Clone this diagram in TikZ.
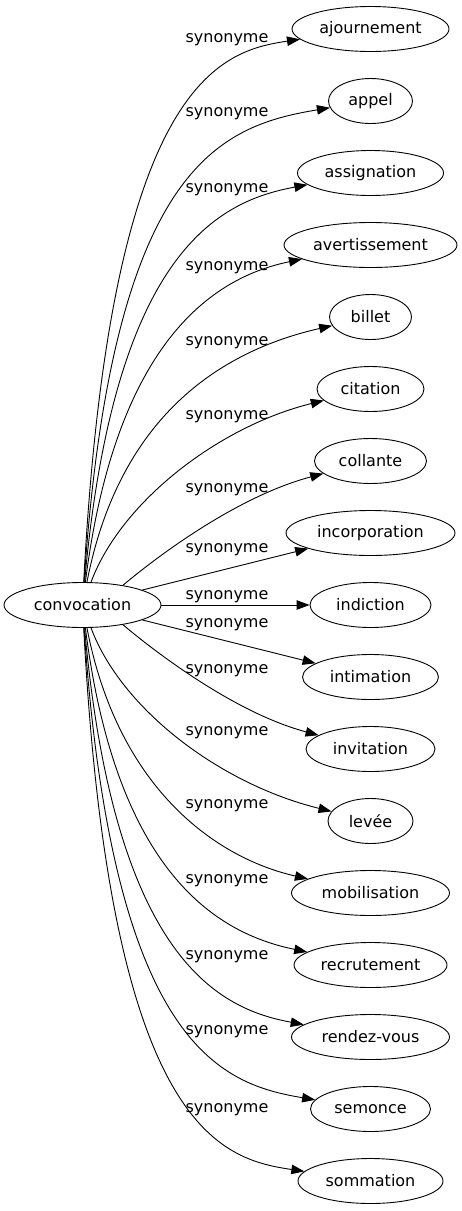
\documentclass[tikz,border=0pt]{standalone}
\usepackage{fontspec}
\setmainfont{DejaVu Sans}
\usetikzlibrary{positioning, arrows.meta, shapes.geometric}

\begin{document}
\begin{tikzpicture}[
    x=1pt, y=-1pt,
    font=\fontsize{16}{19}\selectfont,
    word/.style = {draw, ellipse, line width=0.9pt, inner sep=0pt, minimum height=45pt},% the words
    rel/.style = {inner sep=1pt},% edge labels
    link/.style = {line width=0.9pt, -{Triangle[length=13pt, width=9.5pt]}}
    ]
    \useasboundingbox (0,0) rectangle (462,1211);
    \node (convocation) [word, minimum width=157pt] at (82.5,605) {convocation};
    \foreach \nm/\txt/\wdt/\ly [count=\i from 0] in {
        ajournement/ajournement/157/40, appel/appel/84/114, assignation/assignation/146/190,
        avertissement/avertissement/173/268, billet/billet/82/343, citation/citation/107/417,
        collante/collante/112/490, incorporation/incorporation/169/550, indiction/indiction/121/597,
        intimation/intimation/136/625, invitation/invitation/129/671, levee/levée/85/733,
        mobilisation/mobilisation/158/806, recrutement/recrutement/153/881,
        rendezvous/rendez-vous/158/957, semonce/semonce/120/1032, sommation/sommation/145/1110}
    {
        \pgfmathsetmacro\ypos{29+72*\i}
        \node (\nm) [word, minimum width=\wdt pt] at (370.5,\ypos) {\txt};
        \node (lbl\i) [rel] at (227,\ly) {synonyme};
        % curve shape depends on how far the word is from the middle
        \pgfmathsetmacro\sgn{\i<8 ? 1 : -1}
        \pgfmathsetmacro\dist{\sgn*(605-\ypos)}
        \pgfmathtruncatemacro\isflat{\dist<100}
        \ifnum\isflat=1
            \draw[link] (convocation) -- (\nm);
        \else
            \pgfmathsetmacro\cax{128-\dist/32}
            \pgfmathsetmacro\cay{\ypos+\sgn*(148-\dist/6)}
            \pgfmathsetmacro\cby{\ypos+\sgn*(22+(576-\dist)/24)}
            \draw[link] (convocation) .. controls (\cax,\cay) and (220,\cby) .. (\nm);
        \fi
    }
\end{tikzpicture}
\end{document}
